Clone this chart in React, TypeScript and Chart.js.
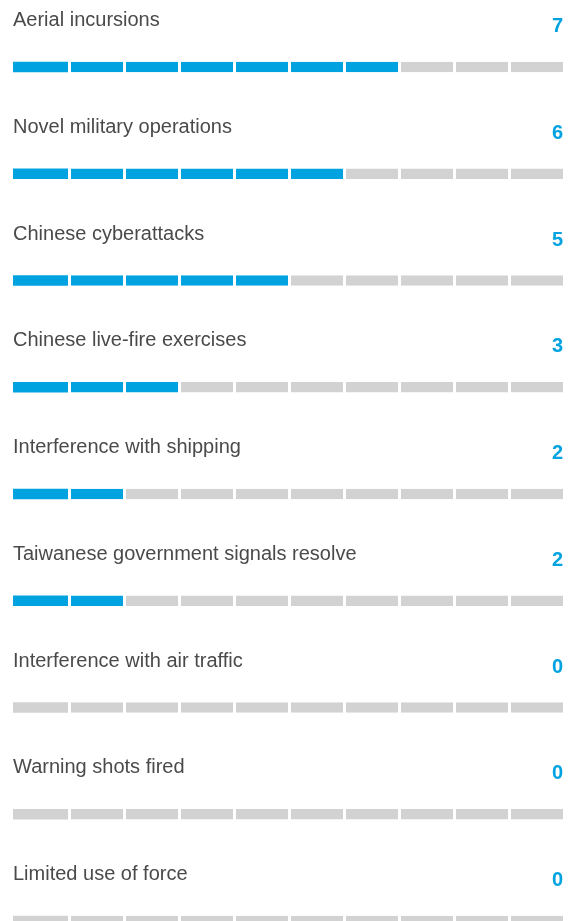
import React, { useEffect, useRef } from "react";
import { Chart, registerables } from "chart.js";

Chart.register(...registerables);

const categories = [
  "Aerial incursions",
  "Novel military operations",
  "Chinese cyberattacks",
  "Chinese live-fire exercises",
  "Interference with shipping",
  "Taiwanese government signals resolve",
  "Interference with air traffic",
  "Warning shots fired",
  "Limited use of force",
];
const values = [7, 6, 5, 3, 2, 2, 0, 0, 0];
const maxScore = 10;

const BLUE = "#00a3e0";
const GRAY = "#d2d2d2";
const LABEL_COLOR = "#4a4a4a";
const FONT = "Arial, 'Liberation Sans', sans-serif";

const textPlugin = {
  id: "rowText",
  afterDatasetsDraw(chart: any) {
    const ctx = chart.ctx;
    const y = chart.scales.y;
    const area = chart.chartArea;
    ctx.save();
    categories.forEach((cat, i) => {
      const cy = y.getPixelForValue(i);
      ctx.textBaseline = "alphabetic";
      ctx.font = `20px ${FONT}`;
      ctx.fillStyle = LABEL_COLOR;
      ctx.textAlign = "left";
      ctx.fillText(cat, area.left, cy - 41);
      ctx.font = `bold 20px ${FONT}`;
      ctx.fillStyle = BLUE;
      ctx.textAlign = "right";
      ctx.fillText(String(values[i]), area.right, cy - 35);
    });
    ctx.restore();
  },
};

export default function App() {
  const ref = useRef<HTMLCanvasElement | null>(null);
  useEffect(() => {
    document.body.style.margin = "0";
    if (!ref.current) return;
    const datasets = Array.from({ length: maxScore }, (_, k) => ({
      label: `seg${k}`,
      data: values.map(() => 1),
      backgroundColor: values.map((v) => (k < v ? BLUE : GRAY)),
      borderColor: "#ffffff",
      borderWidth: { left: k === 0 ? 0 : 3, right: 0, top: 0, bottom: 0 },
      borderSkipped: false,
      inflateAmount: 0,
      barThickness: 10.5,
      clip: false as any,
    }));
    const chart = new Chart(ref.current, {
      type: "bar",
      data: { labels: categories, datasets: datasets as any },
      options: {
        indexAxis: "y",
        animation: false,
        responsive: false,
        maintainAspectRatio: false,
        layout: { padding: { left: 13, right: 11, top: 67, bottom: 0 } },
        plugins: { legend: { display: false }, tooltip: { enabled: false } },
        scales: {
          x: { stacked: true, min: 0, max: maxScore, display: false },
          y: { stacked: true, display: false, offset: false, min: 0, max: categories.length - 1 },
        },
      },
      plugins: [textPlugin],
    });
    return () => chart.destroy();
  }, []);
  return <canvas ref={ref} width={574} height={921} style={{ display: "block" }} />;
}
